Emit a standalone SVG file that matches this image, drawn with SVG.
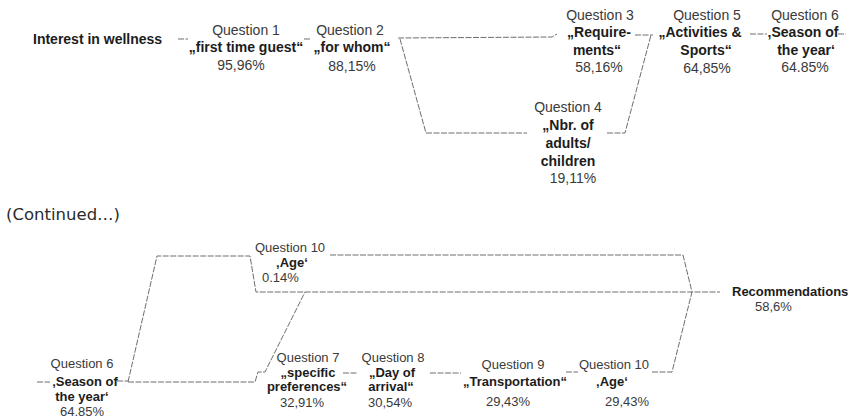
<svg xmlns="http://www.w3.org/2000/svg" width="852" height="418" viewBox="0 0 852 418">
  <style>
    .q { font-family: "Liberation Sans", Arial, sans-serif; font-size: 14px; fill: #3a3a3a; text-anchor: middle; }
    .b { font-family: "Liberation Sans", Arial, sans-serif; font-size: 14px; font-weight: bold; fill: #1c1c1c; text-anchor: middle; }
    .qs { font-family: "Liberation Sans", Arial, sans-serif; font-size: 13px; fill: #3a3a3a; text-anchor: middle; }
    .bs { font-family: "Liberation Sans", Arial, sans-serif; font-size: 13px; font-weight: bold; fill: #1c1c1c; text-anchor: middle; }
    .start { text-anchor: start; }
    .link { fill: none; stroke: #6e6e6e; stroke-width: 1; stroke-dasharray: 6 1.5; }
  </style>

  <rect width="852" height="418" fill="#ffffff"/>

  <!-- connectors -->
  <g id="connectors">
    <!-- upper path -->
    <path class="link" d="M178 39 H188"/>
    <path class="link" d="M304 39 H311"/>
    <path class="link" d="M398 38 L552 37 L557 34"/>
    <path class="link" d="M400 39 L426 133 H527"/>
    <path class="link" d="M607 133 H625 L651 35"/>
    <path class="link" d="M635 35 H653"/>
    <path class="link" d="M750 34 H767"/>
    <path class="link" d="M838 34 H846"/>
    <!-- lower path -->
    <path class="link" d="M37 382 H50"/>
    <path class="link" d="M117 381 H128"/>
    <path class="link" d="M128 382 L157 256 H250 L256 292 H692"/>
    <path class="link" d="M330 255 H683 L692 292"/>
    <path class="link" d="M128 382 H255 L258 372 H265 L305 292"/>
    <path class="link" d="M343 373 H358"/>
    <path class="link" d="M430 373 H461"/>
    <path class="link" d="M566 372 H578"/>
    <path class="link" d="M652 372 H672 L692 292 H720"/>
  </g>

  <!-- upper chain -->
  <g id="interest">
    <text class="b start" x="33" y="44">Interest in wellness</text>
  </g>
  <g id="q1">
    <text class="q" x="246" y="35">Question 1</text>
    <text class="b" x="246" y="52">„first time guest“</text>
    <text class="q" x="241" y="70">95,96%</text>
  </g>
  <g id="q2">
    <text class="q" x="350" y="35">Question 2</text>
    <text class="b" x="352" y="52">„for whom“</text>
    <text class="q" x="352" y="71">88,15%</text>
  </g>
  <g id="q3">
    <text class="q" x="600" y="20">Question 3</text>
    <text class="b" x="599" y="37">„Require-</text>
    <text class="b" x="597" y="55">ments“</text>
    <text class="q" x="599" y="72">58,16%</text>
  </g>
  <g id="q4">
    <text class="q" x="568" y="112">Question 4</text>
    <text class="b" x="568" y="130">„Nbr. of</text>
    <text class="b" x="568" y="148">adults/</text>
    <text class="b" x="568" y="166">children</text>
    <text class="q" x="573" y="183">19,11%</text>
  </g>
  <g id="q5">
    <text class="q" x="707" y="20">Question 5</text>
    <text class="b" x="700" y="37">„Activities &amp;</text>
    <text class="b" x="706" y="55">Sports“</text>
    <text class="q" x="707" y="73">64,85%</text>
  </g>
  <g id="q6-top">
    <text class="q" x="805" y="20">Question 6</text>
    <text class="b" x="803" y="37">‚Season of</text>
    <text class="b" x="806" y="55">the year‘</text>
    <text class="q" x="805" y="72">64.85%</text>
  </g>

  <g id="continued">
    <text x="6" y="220" font-family="'DejaVu Sans', Verdana, sans-serif" font-size="16.5" fill="#2a2a2a">(Continued…)</text>
  </g>

  <!-- lower chain -->
  <g id="q6-bottom">
    <text class="qs" x="82" y="368">Question 6</text>
    <text class="bs" x="85" y="386">‚Season of</text>
    <text class="bs" x="82" y="401">the year‘</text>
    <text class="qs" x="82" y="416">64.85%</text>
  </g>
  <g id="q10-top">
    <text class="qs start" x="255" y="252">Question 10</text>
    <text class="bs" x="292" y="267">‚Age‘</text>
    <text class="qs start" x="262" y="282">0.14%</text>
  </g>
  <g id="q7">
    <text class="qs" x="308" y="362">Question 7</text>
    <text class="bs" x="308" y="377">„specific</text>
    <text class="bs" x="307" y="391">preferences“</text>
    <text class="qs" x="302" y="407">32,91%</text>
  </g>
  <g id="q8">
    <text class="qs" x="393" y="362">Question 8</text>
    <text class="bs" x="392" y="377">„Day of</text>
    <text class="bs" x="391" y="391">arrival“</text>
    <text class="qs" x="390" y="407">30,54%</text>
  </g>
  <g id="q9">
    <text class="qs" x="513" y="369">Question 9</text>
    <text class="bs" x="515" y="386">„Transportation“</text>
    <text class="qs" x="508" y="406">29,43%</text>
  </g>
  <g id="q10-bottom">
    <text class="qs" x="614" y="369">Question 10</text>
    <text class="bs" x="612" y="386">‚Age‘</text>
    <text class="qs" x="627" y="406">29,43%</text>
  </g>
  <g id="recommendations">
    <text class="bs start" x="732" y="296">Recommendations</text>
    <text class="qs start" x="755" y="311">58,6%</text>
  </g>
</svg>
